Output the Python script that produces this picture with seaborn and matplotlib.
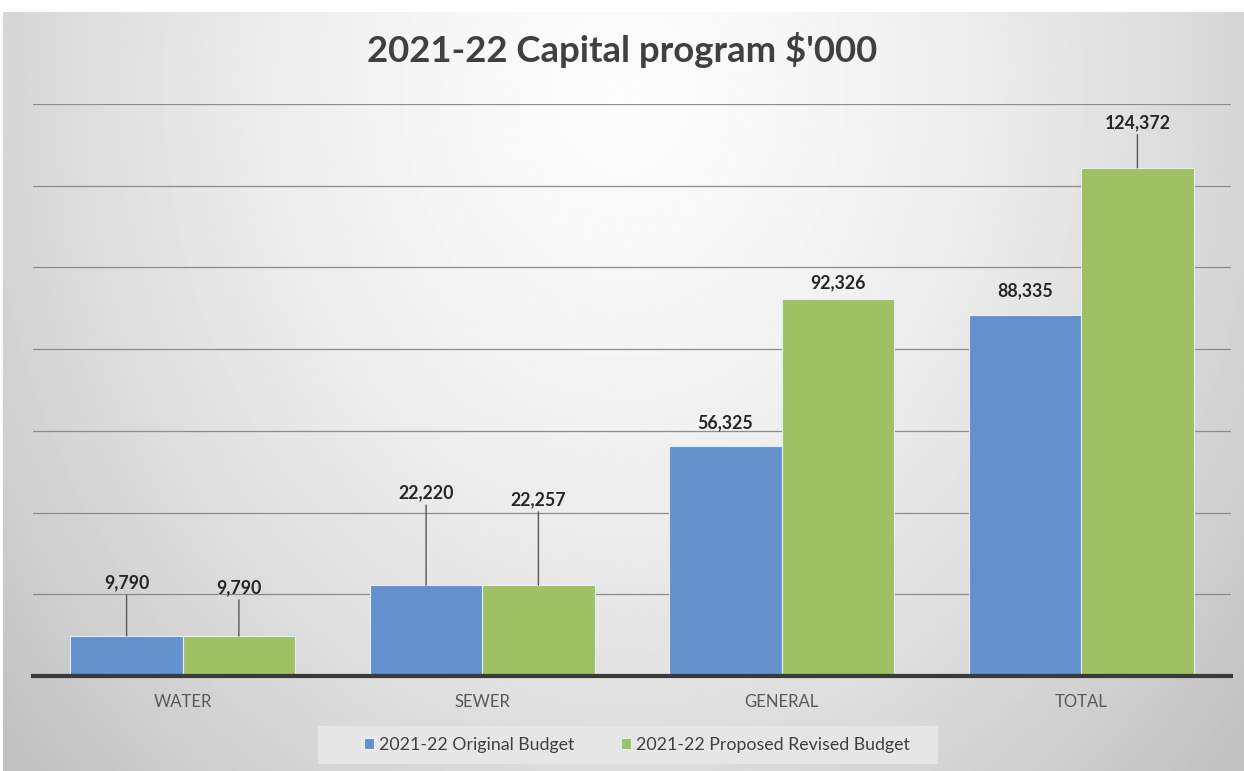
import numpy as np
import pandas as pd
import matplotlib
matplotlib.use("Agg")
import matplotlib.pyplot as plt
from matplotlib.patches import Rectangle
import seaborn as sns

# ---- data ----
categories = ["WATER", "SEWER", "GENERAL", "TOTAL"]
series_names = ["2021-22 Original Budget", "2021-22 Proposed Revised Budget"]
original_budget = [9790, 22220, 56325, 88335]
revised_budget = [9790, 22257, 92326, 124372]
title = "2021-22 Capital program $'000"

# label offsets above bar tops (pixels) -- styling only
label_offsets = [[53, 92, 23, 24], [48, 85, 16, 45]]

df = pd.DataFrame({
    "category": categories * 2,
    "series": [series_names[0]] * 4 + [series_names[1]] * 4,
    "value": original_budget + revised_budget,
})

sns.set_theme(style="white")
plt.rcParams["font.family"] = ["Lato", "DejaVu Sans"]

W, H = 1244, 771
fig = plt.figure(figsize=(W / 100, H / 100), dpi=100)
fig.patch.set_facecolor("white")

# background radial gradient
bg = fig.add_axes([3 / W, 0, 1 - 3 / W, 1 - 12 / H], zorder=-10)
yy, xx = np.mgrid[0:1:400j, 0:1:700j]
r = np.sqrt(((xx - 0.5) / 0.55) ** 2 + ((yy - 0.1) / 1.1) ** 2)
img = 0.985 - 0.17 * np.clip(r, 0, 1.2) ** 1.6
bg.imshow(img, cmap="gray", vmin=0, vmax=1, aspect="auto", extent=[0, 1, 1, 0])
bg.set_axis_off()

ax = fig.add_axes([33 / W, 1 - 676 / H, (1231 - 33) / W, (676 - 104) / H])
ax.set_facecolor("none")

palette = {series_names[0]: "#6491cb", series_names[1]: "#9fc064"}
sns.barplot(data=df, x="category", y="value", hue="series", order=categories,
            hue_order=series_names, palette=palette, width=0.75, saturation=1,
            edgecolor="#e4eef8", linewidth=0.8, ax=ax, legend=True)

ax.set_ylim(0, 140000)
ax.set_yticks(np.arange(0, 140001, 20000))
ax.set_yticklabels([])
ax.tick_params(axis="y", length=0)
ax.grid(axis="y", color="#8c8c8c", linewidth=0.9)
ax.set_axisbelow(True)
for s in ["top", "right", "left"]:
    ax.spines[s].set_visible(False)
ax.spines["bottom"].set_color("#3a3a3a")
ax.spines["bottom"].set_linewidth(3)
ax.set_xlabel("")
ax.set_ylabel("")
ax.tick_params(axis="x", length=0, pad=13, labelsize=12, labelcolor="#595959")

handles, labels = ax.get_legend_handles_labels()
ax.get_legend().remove()

# data labels
for si, cont in enumerate(ax.containers):
    vals = [original_budget, revised_budget][si]
    for bi, bar in enumerate(cont):
        x = bar.get_x() + bar.get_width() / 2
        h = bar.get_height()
        off = label_offsets[si][bi]
        kw = {}
        if off > 30:
            kw["arrowprops"] = dict(arrowstyle="-", color="#595959", lw=1,
                                    shrinkA=0, shrinkB=0)
        ax.annotate(f"{vals[bi]:,}", xy=(x, h), xytext=(0, off),
                    textcoords="offset pixels", ha="center", va="center",
                    fontsize=12.8, fontweight="bold", color="#262626", **kw)

fig.suptitle(title, x=0.5, y=1 - 50 / H, va="center", fontsize=26.3,
             fontweight="bold", color="#404040")

# legend box
fig.patches.append(Rectangle((318 / W, 1 - 764 / H), (938 - 318) / W, 38 / H,
                             transform=fig.transFigure, facecolor="#e6e6e6",
                             edgecolor="none", zorder=0))
leg = fig.legend(handles, labels, loc="center", bbox_to_anchor=(637 / W, 1 - 745 / H),
                 ncol=2, frameon=False, fontsize=12.8, handlelength=0.56,
                 handleheight=0.56, handletextpad=0.3, columnspacing=2.6,
                 borderpad=0, borderaxespad=0)
for t in leg.get_texts():
    t.set_color("#404040")

fig.savefig("out.png", dpi=100)
